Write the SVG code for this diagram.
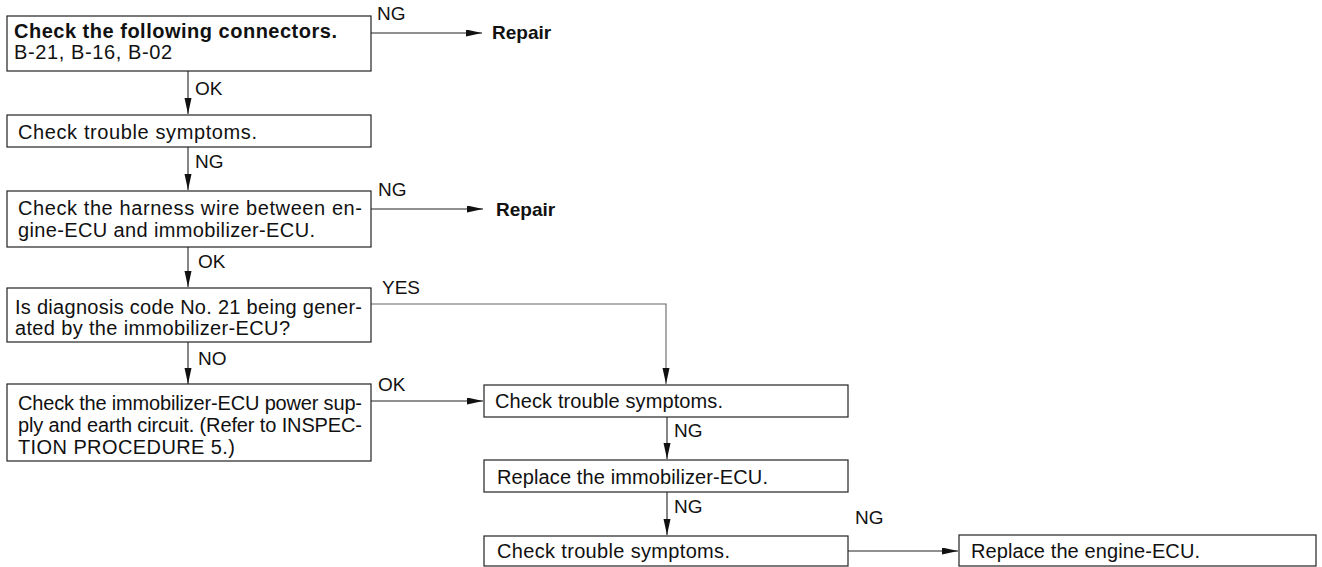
<svg xmlns="http://www.w3.org/2000/svg" width="1322" height="567" viewBox="0 0 1322 567">
<style>
.box{fill:#fff;stroke:#222;stroke-width:1.2}
.t{font-family:"Liberation Sans",Arial,sans-serif;font-size:20px;fill:#111}
.l{font-family:"Liberation Sans",Arial,sans-serif;font-size:19px;fill:#111}
.b{font-weight:bold}
.c{fill:none;stroke:#222;stroke-width:1.1}
.y{stroke:#666}
</style>
<defs>
<marker id="ah" markerUnits="userSpaceOnUse" markerWidth="17" markerHeight="8" refX="16" refY="3.5" orient="auto">
<path d="M0,0 L16,3.5 L0,7 Z" fill="#111"/>
</marker>
</defs>
<rect width="1322" height="567" fill="#fff"/>
<g id="connectors">
<line class="c" x1="371" y1="33" x2="482" y2="33" marker-end="url(#ah)"/>
<line class="c" x1="188" y1="71" x2="188" y2="114" marker-end="url(#ah)"/>
<line class="c" x1="188" y1="147" x2="188" y2="190" marker-end="url(#ah)"/>
<line class="c" x1="371" y1="209" x2="483" y2="209" marker-end="url(#ah)"/>
<line class="c" x1="188" y1="247" x2="188" y2="287" marker-end="url(#ah)"/>
<polyline class="c y" points="371,304 666,304 666,384" marker-end="url(#ah)"/>
<line class="c" x1="188" y1="342" x2="188" y2="384" marker-end="url(#ah)"/>
<line class="c" x1="371" y1="401" x2="483" y2="401" marker-end="url(#ah)"/>
<line class="c" x1="667" y1="417" x2="667" y2="459" marker-end="url(#ah)"/>
<line class="c" x1="667" y1="492" x2="667" y2="535" marker-end="url(#ah)"/>
<line class="c" x1="848" y1="551" x2="958" y2="551" marker-end="url(#ah)"/>
<text class="l" x="377" y="20">NG</text>
<text class="l b" x="492" y="39">Repair</text>
<text class="l" x="195" y="95">OK</text>
<text class="l" x="195" y="168">NG</text>
<text class="l" x="378" y="196">NG</text>
<text class="l b" x="496" y="216">Repair</text>
<text class="l" x="198" y="268">OK</text>
<text class="l" x="382" y="294">YES</text>
<text class="l" x="198" y="365">NO</text>
<text class="l" x="378" y="391">OK</text>
<text class="l" x="674" y="437">NG</text>
<text class="l" x="674" y="513">NG</text>
<text class="l" x="855" y="524">NG</text>
</g>
<g id="n1">
<rect class="box" x="7" y="16" width="364" height="55"/>
<text class="t b" x="14" y="38" textLength="323">Check the following connectors.</text>
<text class="t" x="14" y="59" textLength="158">B-21, B-16, B-02</text>
</g>
<g id="n2">
<rect class="box" x="7" y="115" width="364" height="32"/>
<text class="t" x="18" y="139" textLength="239">Check trouble symptoms.</text>
</g>
<g id="n3">
<rect class="box" x="7" y="191" width="364" height="56"/>
<text class="t" x="18" y="215" textLength="344">Check the harness wire between en-</text>
<text class="t" x="18" y="237" textLength="297">gine-ECU and immobilizer-ECU.</text>
</g>
<g id="n4">
<rect class="box" x="7" y="288" width="364" height="54"/>
<text class="t" x="15" y="314" textLength="347">Is diagnosis code No. 21 being gener-</text>
<text class="t" x="15" y="335" textLength="275">ated by the immobilizer-ECU?</text>
</g>
<g id="n6">
<rect class="box" x="7" y="384" width="364" height="77"/>
<text class="t" x="18" y="410" textLength="344">Check the immobilizer-ECU power sup-</text>
<text class="t" x="18" y="432" textLength="344">ply and earth circuit. (Refer to INSPEC-</text>
<text class="t" x="18" y="454" textLength="217">TION PROCEDURE 5.)</text>
</g>
<g id="n5">
<rect class="box" x="484" y="385" width="364" height="32"/>
<text class="t" x="495" y="408" textLength="228">Check trouble symptoms.</text>
</g>
<g id="n7">
<rect class="box" x="484" y="460" width="364" height="32"/>
<text class="t" x="497" y="484" textLength="271">Replace the immobilizer-ECU.</text>
</g>
<g id="n8">
<rect class="box" x="484" y="536" width="364" height="30"/>
<text class="t" x="497" y="558" textLength="233">Check trouble symptoms.</text>
</g>
<g id="n9">
<rect class="box" x="959" y="535" width="357" height="31"/>
<text class="t" x="971" y="558" textLength="229">Replace the engine-ECU.</text>
</g>
</svg>
